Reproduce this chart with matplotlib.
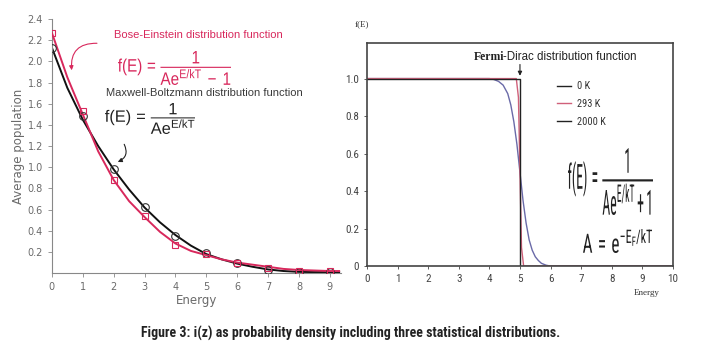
import matplotlib
matplotlib.use('Agg')
import matplotlib.pyplot as plt
from matplotlib.lines import Line2D
from matplotlib.textpath import TextPath
from matplotlib.patches import PathPatch
from matplotlib.font_manager import FontProperties
from matplotlib.transforms import Affine2D

plt.rcParams['mathtext.fontset'] = 'custom'
plt.rcParams['mathtext.rm'] = 'Liberation Sans'
plt.rcParams['mathtext.it'] = 'Liberation Sans'
plt.rcParams['mathtext.sf'] = 'Roboto Condensed'

W, H = 701, 352

# Left panel: markers at integer energies
energy_pts = [0, 1, 2, 3, 4, 5, 6, 7, 8, 9]
mb_pts = [2.13, 1.48, 0.98, 0.62, 0.35, 0.19, 0.10, 0.03, 0.01, 0.01]
be_pts = [2.27, 1.53, 0.88, 0.54, 0.27, 0.18, 0.10, 0.05, 0.02, 0.02]

# Left panel: smooth curves
energy_curve = [0, 0.5, 1, 1.5, 2, 2.5, 3, 3.5, 4, 4.5, 5, 5.5, 6, 6.5, 7, 7.5, 8, 8.5, 9, 9.3]
mb_curve = [2.13, 1.75, 1.45, 1.20, 0.98, 0.79, 0.62, 0.48, 0.36, 0.26, 0.18, 0.13,
            0.09, 0.06, 0.035, 0.02, 0.012, 0.01, 0.01, 0.01]
be_curve = [2.27, 1.85, 1.50, 1.15, 0.88, 0.68, 0.53, 0.39, 0.28, 0.21, 0.17, 0.13,
            0.10, 0.08, 0.06, 0.04, 0.03, 0.025, 0.02, 0.02]

# Right panel: Fermi-Dirac curves
e_0k = [0, 5.0, 5.0, 10]
f_0k = [1.0, 1.0, 0.0, 0.0]
e_293k = [0, 4.88, 4.95, 5.0, 5.05, 5.12, 10]
f_293k = [1.0, 1.0, 0.9, 0.5, 0.1, 0.0, 0.0]
e_2000k = [0, 4.0, 4.15, 4.3, 4.45, 4.6, 4.7, 4.8, 4.9, 5.0, 5.1, 5.2, 5.3, 5.4, 5.5,
           5.6, 5.7, 5.85, 6.0, 10]
f_2000k = [1.0, 1.0, 0.995, 0.985, 0.965, 0.92, 0.86, 0.77, 0.65, 0.5, 0.35, 0.23,
           0.14, 0.085, 0.05, 0.03, 0.015, 0.005, 0.0, 0.0]

red = '#d8285c'
grey = '#6a6a6a'
cond = 'Roboto Condensed'

fig = plt.figure(figsize=(W / 100, H / 100), dpi=100)


def boxed_text(s, family, x0, x1, y0, y1, color):
    # draw a formula stretched to fill a box given in pixels from the top-left
    tp = TextPath((0, 0), s, size=20, prop=FontProperties(family=family))
    bb = tp.get_extents()
    tr = (Affine2D().translate(-bb.x0, -bb.y0)
          .scale((x1 - x0) / bb.width, (y1 - y0) / bb.height)
          .translate(x0, H - y1)
          .scale(1 / W, 1 / H)) + fig.transFigure
    fig.add_artist(PathPatch(tp, transform=tr, facecolor=color, edgecolor='none', lw=0))


# ---- left panel ----
ax1 = fig.add_axes([0.074, 0.224, 0.412, 0.722])
ax1.plot(energy_curve, mb_curve, color='#111111', lw=1.4, zorder=2)
ax1.plot(energy_curve, be_curve, color=red, lw=1.4, zorder=3)
ax1.plot(energy_pts, mb_pts, 'o', mfc='none', mec='#333333', ms=5.5, mew=0.8, zorder=4)
ax1.plot(energy_pts, be_pts, 's', mfc='none', mec=red, ms=4.5, mew=0.8, zorder=4)
ax1.set_xlim(0, 9.35)
ax1.set_ylim(0, 2.4)
ax1.set_xticks(range(10))
ax1.set_yticks([0.2, 0.4, 0.6, 0.8, 1.0, 1.2, 1.4, 1.6, 1.8, 2.0, 2.2, 2.4])
ax1.set_yticklabels(['%.1f' % v for v in ax1.get_yticks()])
for s in ['top', 'right']:
    ax1.spines[s].set_visible(False)
for s in ['left', 'bottom']:
    ax1.spines[s].set_color('#888888')
    ax1.spines[s].set_linewidth(0.8)
ax1.tick_params(colors='#888888', labelcolor=grey, labelsize=7, length=3, width=0.6)
ax1.set_xlabel('Energy', color=grey, fontsize=8.5, labelpad=1)
ax1.set_ylabel('Average population', color=grey, fontsize=8.5, labelpad=2)

ax1.text(4.75, 2.25, 'Bose-Einstein distribution function', color=red,
         fontsize=8, ha='center', va='center', family='Liberation Sans')
ax1.text(4.95, 1.70, 'Maxwell-Boltzmann distribution function', color='#3a3a3a',
         fontsize=8, ha='center', va='center', family='Liberation Sans')
boxed_text(r'$\mathrm{f(E)\,=\,\dfrac{1}{Ae^{E/kT}\;-\;1}}$', 'Liberation Sans',
           118, 231, 51, 85, red)
boxed_text(r'$\mathrm{f(E)\,=\,\dfrac{1}{Ae^{E/kT}}}$', 'Liberation Sans',
           105, 195, 103, 134, '#222222')
ax1.annotate('', xy=(0.65, 1.89), xytext=(1.55, 2.17),
             arrowprops=dict(arrowstyle='-|>', color=red, lw=0.8, mutation_scale=6,
                             connectionstyle='arc3,rad=0.6'))
ax1.annotate('', xy=(2.05, 1.04), xytext=(2.3, 1.24),
             arrowprops=dict(arrowstyle='-|>', color='#222222', lw=0.8, mutation_scale=6,
                             connectionstyle='arc3,rad=-0.6'))

# ---- right panel ----
ax2 = fig.add_axes([0.5235, 0.244, 0.4365, 0.634])
ax2.plot(e_2000k, f_2000k, color='#6a6aa8', lw=1.0, label='2000 K')
ax2.plot(e_293k, f_293k, color='#d0607a', lw=1.0, label='293 K')
ax2.plot(e_0k, f_0k, color='#222222', lw=1.0, label='0 K')
ax2.set_xlim(0, 10)
ax2.set_ylim(0, 1.19)
ax2.set_xticks(range(11))
ax2.set_yticks([0, 0.2, 0.4, 0.6, 0.8, 1.0])
ax2.set_yticklabels(['0', '0.2', '0.4', '0.6', '0.8', '1.0'])
for s in ax2.spines.values():
    s.set_color('#444444')
    s.set_linewidth(1.2)
ax2.tick_params(colors='#444444', labelcolor='#444444', labelsize=8, length=2, width=0.6)
for lbl in ax2.get_xticklabels() + ax2.get_yticklabels():
    lbl.set_family(cond)

handles = [Line2D([], [], color='#222222', lw=1.0),
           Line2D([], [], color='#d0607a', lw=1.0),
           Line2D([], [], color='#222222', lw=1.0)]
ax2.legend(handles, ['0 K', '293 K', '2000 K'], frameon=False,
           prop={'family': cond, 'size': 7.5},
           loc='upper left', bbox_to_anchor=(0.59, 0.87), handlelength=1.4,
           handletextpad=0.5, labelspacing=0.75, labelcolor='#333333')

ax2.text(4.5, 1.115, 'Fermi', family='Liberation Serif', weight='bold',
         fontsize=8.5, ha='right', va='center', color='#222222')
ax2.text(4.43, 1.115, '-Dirac distribution function', family='Liberation Sans',
         fontsize=8.3, ha='left', va='center', color='#222222')
ax2.annotate('', xy=(5.0, 1.0), xytext=(5.0, 1.09),
             arrowprops=dict(arrowstyle='-|>', color='#222222', lw=0.8, mutation_scale=6))
boxed_text(r'$\mathsf{f(E)\,=\,\dfrac{1}{Ae^{E/kT}+1}}$', cond, 568, 653, 148, 215, '#222222')
boxed_text(r'$\mathsf{A\,=\,e^{-E_F/kT}}$', cond, 583, 652, 229, 253, '#222222')
fig.text(362 / W, 1 - 24 / H, 'f(E)', family='Liberation Serif', fontsize=6.5,
         ha='center', va='center', color='#333333')
fig.text(647 / W, 1 - 293 / H, 'Energy', family='Liberation Serif', fontsize=6.5,
         ha='center', va='center', color='#333333')

fig.text(0.5, 1 - 333 / H,
         'Figure 3: i(z) as probability density including three statistical distributions.',
         ha='center', va='center', fontsize=10, weight='bold', color='#222222',
         family=[cond, 'DejaVu Sans'])

fig.savefig('out.png', dpi=100)
